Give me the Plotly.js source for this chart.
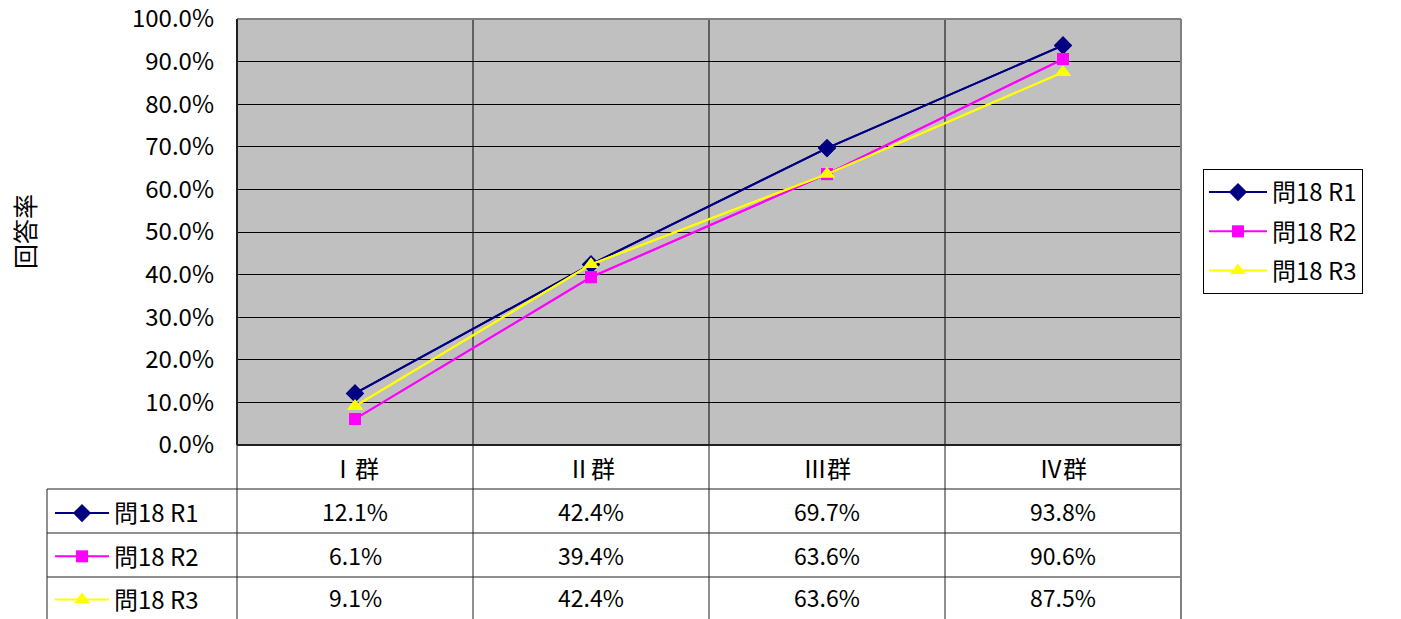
<!DOCTYPE html>
<html>
<head>
<meta charset="utf-8">
<script src="https://cdn.plot.ly/plotly-3.0.1.min.js"></script>
<style>html,body{margin:0;padding:0;background:#fff;overflow:hidden;}#chart{width:1401px;height:619px;}</style>
</head>
<body>
<div id="chart"></div>
<script>
// ---- data ----
const categories = ["Ⅰ群", "Ⅱ群", "Ⅲ群", "Ⅳ群"];
const seriesNames = ["問18 R1", "問18 R2", "問18 R3"];
const r1 = [0.121, 0.424, 0.697, 0.938];
const r2 = [0.061, 0.394, 0.636, 0.906];
const r3 = [0.091, 0.424, 0.636, 0.875];
const yTickVals = [0, 0.1, 0.2, 0.3, 0.4, 0.5, 0.6, 0.7, 0.8, 0.9, 1.0];
const yTitle = "回答率";

// ---- styles ----
const W = 1401, H = 619;
const px = x => x / W;          // pixel -> paper x
const py = y => (H - y) / H;    // pixel -> paper y
const FONT = '"Noto Sans CJK JP", "Noto Sans", sans-serif';
const styles = [
  {color: "#000080", symbol: "diamond", size: 14},
  {color: "#FF00FF", symbol: "square", size: 12},
  {color: "#FFFF00", symbol: "triangle-up", size: 14}
];
const allSeries = [r1, r2, r3];

const traces = [];
allSeries.forEach((vals, i) => {
  const base = {
    x: categories, y: vals, type: "scatter", mode: "lines+markers",
    name: seriesNames[i],
    line: {color: styles[i].color, width: 2},
    marker: {color: styles[i].color, symbol: styles[i].symbol, size: styles[i].size},
    hoverinfo: "skip"
  };
  traces.push(Object.assign({}, base, {legend: "legend", legendgroup: "g" + i}));
  traces.push(Object.assign({}, base, {legend: "legend2", legendgroup: "t" + i}));
});

// table lines
const shapes = [];
const tblLine = {color: "#202020", width: 1};
shapes.push({type: "rect", xref: "x domain", yref: "y domain", x0: 0, x1: 1, y0: 0, y1: 1,
  fillcolor: "#C0C0C0", line: {width: 0}, layer: "below"});
shapes.push({type: "line", xref: "x domain", yref: "y domain", x0: 0, x1: 1, y0: 1, y1: 1, line: {color: "#808080", width: 2}});
shapes.push({type: "line", xref: "x domain", yref: "y domain", x0: 1, x1: 1, y0: 0, y1: 1, line: {color: "#808080", width: 2}});
shapes.push({type: "line", xref: "x domain", yref: "y domain", x0: 0, x1: 0, y0: 0, y1: 1, line: {color: "#202020", width: 2}});
shapes.push({type: "line", xref: "x domain", yref: "y domain", x0: 0, x1: 1, y0: 0, y1: 0, line: {color: "#202020", width: 2}});
[489, 533, 577].forEach(y => shapes.push({type: "line", xref: "paper", yref: "paper",
  x0: px(47), x1: px(1181), y0: py(y), y1: py(y), line: tblLine}));
shapes.push({type: "line", xref: "paper", yref: "paper", x0: px(47), x1: px(47), y0: py(489), y1: 0, line: tblLine});
shapes.push({type: "line", xref: "paper", yref: "paper", x0: px(237), x1: px(237), y0: py(445), y1: 0, line: tblLine});
[473, 709, 945].forEach(x => shapes.push({type: "line", xref: "paper", yref: "paper",
  x0: px(x), x1: px(x), y0: py(445), y1: 0, line: tblLine}));
shapes.push({type: "line", xref: "paper", yref: "paper", x0: px(1181), x1: px(1181), y0: py(445), y1: 0, line: {color: "#808080", width: 2}});

// annotations
const annotations = [];
annotations.push({text: yTitle, xref: "paper", yref: "paper", x: px(24), y: py(232),
  xanchor: "center", yanchor: "middle",
  textangle: -90, showarrow: false, font: {family: FONT, size: 25, color: "#000"}});
const headerY = py(467);
const rowY = [py(511), py(555), py(597)];
categories.forEach((c, j) => {
  annotations.push({text: c, xref: "x", yref: "paper", x: c, y: headerY, showarrow: false,
    xanchor: "center", yanchor: "middle",
    font: {family: FONT, size: 24, color: "#000"}});
  allSeries.forEach((vals, i) => {
    annotations.push({text: (vals[j] * 100).toFixed(1) + "%", xref: "x", yref: "paper", x: c, y: rowY[i],
      xanchor: "center", yanchor: "middle",
      showarrow: false, font: {family: FONT, size: 23, color: "#000"}});
  });
});

const layout = {
  width: W, height: H, autosize: false,
  margin: {l: 0, r: 0, t: 0, b: 0, autoexpand: false},
  paper_bgcolor: "#FFFFFF",
  plot_bgcolor: "rgba(0,0,0,0)",
  font: {family: FONT, size: 23, color: "#000"},
  xaxis: {
    domain: [px(237), px(1181)],
    type: "category", range: [-0.5, 3.5],
    showticklabels: false, ticks: "",
    tickson: "boundaries",
    showgrid: true, gridcolor: "#606060", gridwidth: 2,
    zeroline: false, showline: false, fixedrange: true
  },
  yaxis: {
    domain: [py(445), py(19)],
    range: [0, 1], tickvals: yTickVals, tickformat: ".1%",
    showgrid: true, gridcolor: "#000000", gridwidth: 1,
    zeroline: false, showline: false,
    ticks: "", ticklabelstandoff: 22, ticklabeloverflow: "allow",
    tickfont: {family: FONT, size: 24, color: "#000"}, fixedrange: true
  },
  showlegend: true,
  legend: {
    x: px(1203), y: py(169), xanchor: "left", yanchor: "top",
    bgcolor: "#FFFFFF", bordercolor: "#000000", borderwidth: 1,
    font: {family: FONT, size: 24, color: "#000"},
    traceorder: "grouped", tracegroupgap: 5, itemwidth: 58,
    entrywidth: 120, entrywidthmode: "pixels"
  },
  legend2: {
    x: px(50), y: py(491), xanchor: "left", yanchor: "top",
    bgcolor: "rgba(0,0,0,0)", borderwidth: 0,
    font: {family: FONT, size: 24, color: "#000"},
    traceorder: "grouped", tracegroupgap: 9, itemwidth: 54
  },
  shapes: shapes,
  annotations: annotations
};

Plotly.newPlot("chart", traces, layout, {displayModeBar: false, staticPlot: true});
</script>
</body>
</html>
